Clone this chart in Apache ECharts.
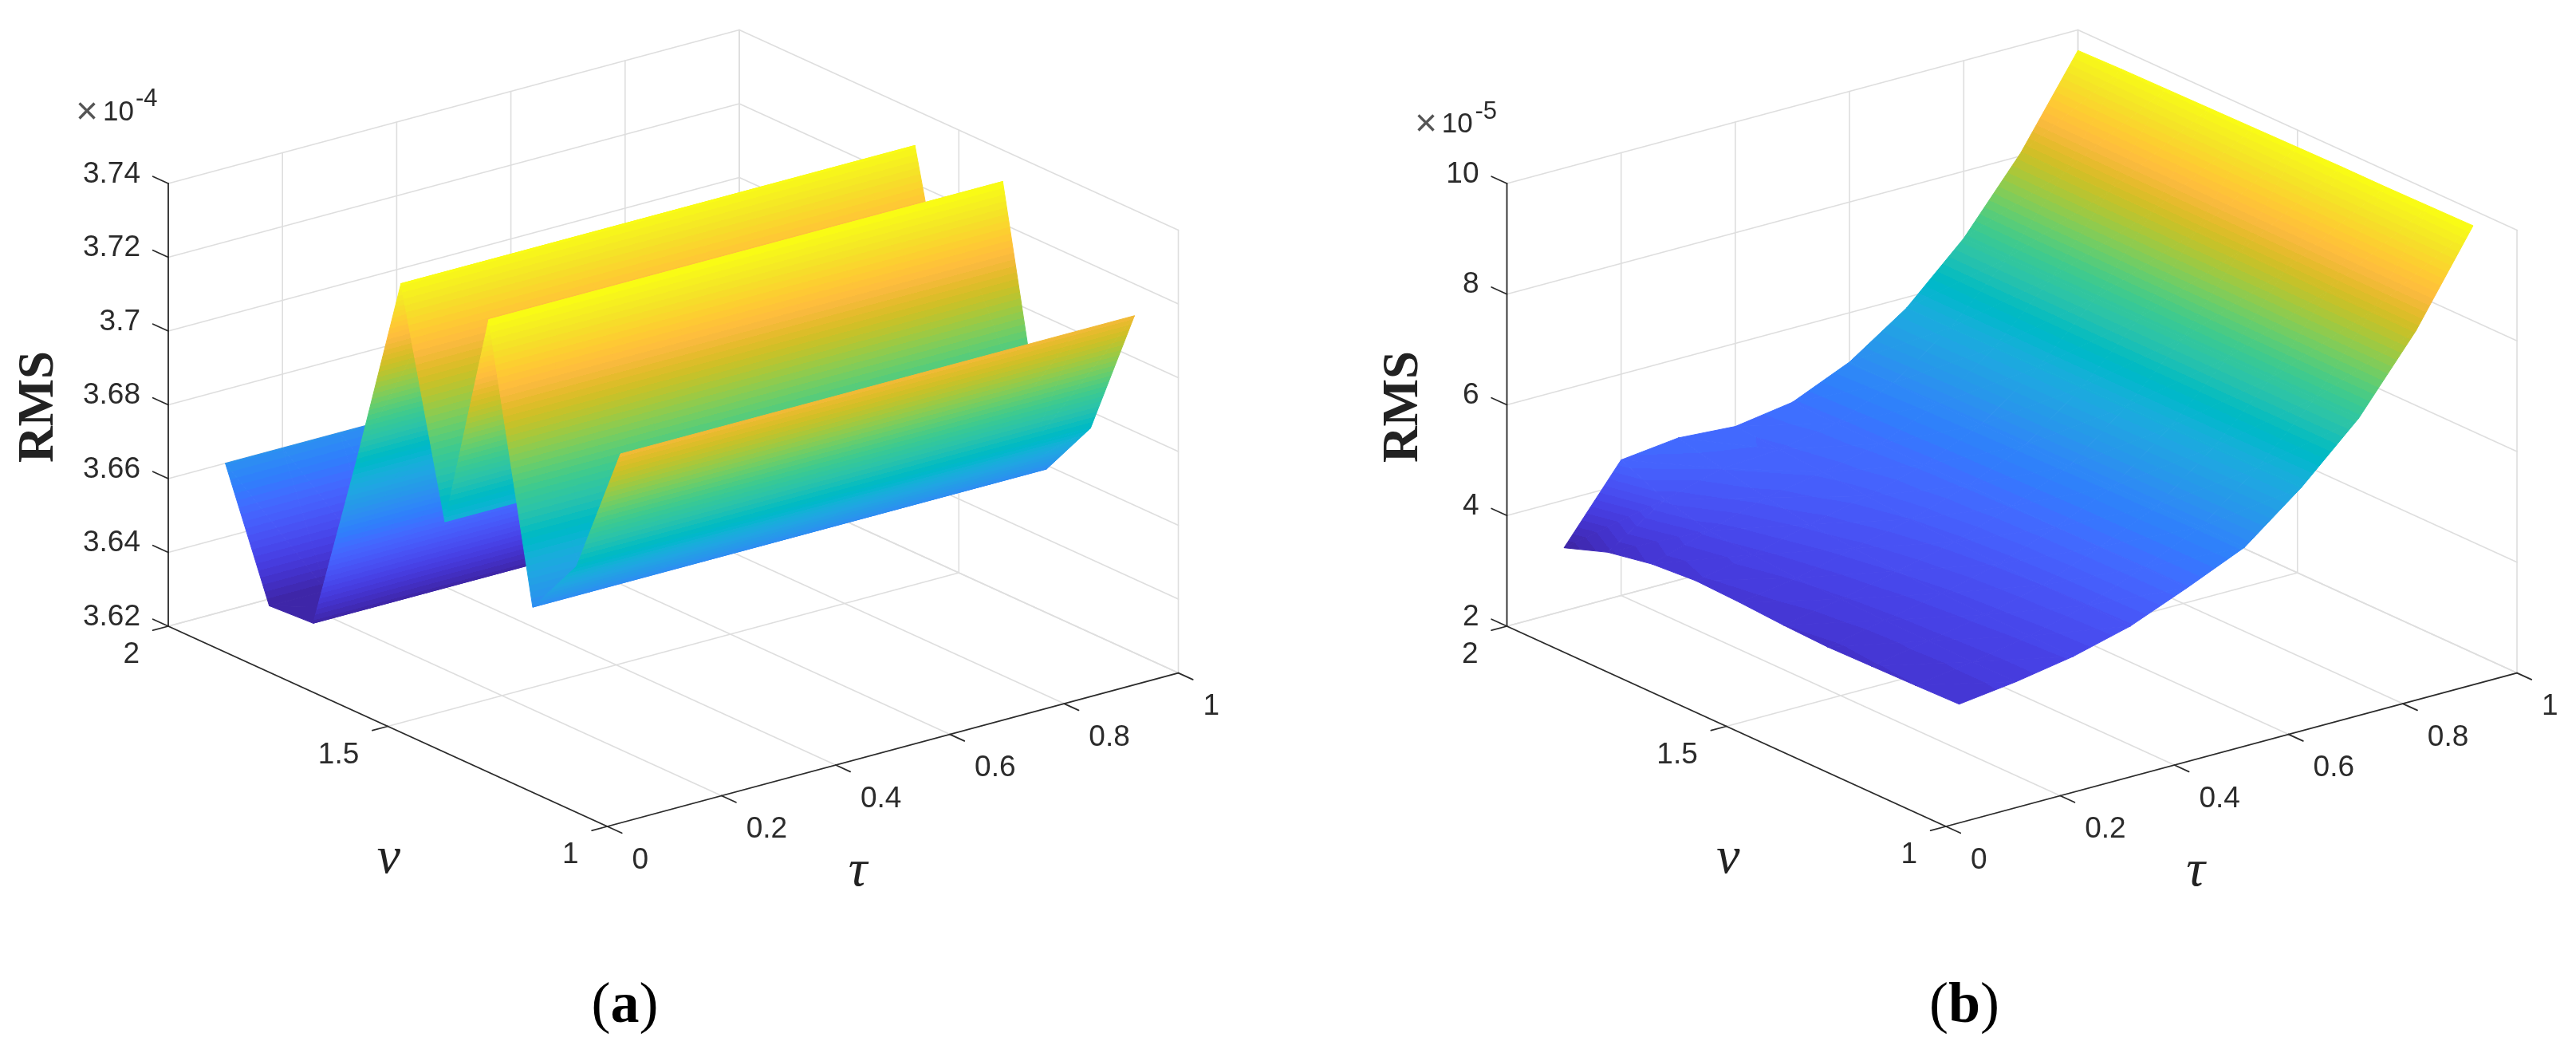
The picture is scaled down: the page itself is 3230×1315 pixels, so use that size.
<!DOCTYPE html>
<html><head><meta charset="utf-8">
<style>html,body{margin:0;padding:0;background:#fff}#c{width:3230px;height:1315px}</style>
<script src="https://cdn.jsdelivr.net/npm/echarts@6/dist/echarts.min.js"></script>
</head><body><div id="c"></div>
<script>
// ---------- data ----------
const nuValues = [2.0, 1.9, 1.8, 1.7, 1.6, 1.5, 1.4, 1.3, 1.2, 1.1];
const tauValues = [0.1, 0.2, 0.3, 0.4, 0.5, 0.6, 0.7, 0.8, 0.9, 1.0];
// panel (a): RMS (x1e-4) per nu row; the surface does not change along tau
const rmsAByNu = [3.66, 3.6268, 3.6275, 3.6775, 3.7304, 3.6713, 3.7315, 3.659, 3.6755, 3.7114];
// panel (b): RMS (x1e-5), rows follow nuValues, columns follow tauValues
const rmsB = [
  [3.14, 4.45, 4.57, 4.50, 4.66, 5.11, 5.81, 6.79, 8.06, 9.63],
  [3.42, 4.10, 4.38, 4.45, 4.64, 5.09, 5.82, 6.80, 8.07, 9.65],
  [3.57, 3.90, 4.22, 4.40, 4.63, 5.07, 5.82, 6.80, 8.08, 9.66],
  [3.63, 3.82, 4.10, 4.33, 4.61, 5.06, 5.83, 6.80, 8.08, 9.67],
  [3.60, 3.77, 4.02, 4.27, 4.60, 5.05, 5.83, 6.80, 8.09, 9.68],
  [3.55, 3.74, 3.97, 4.22, 4.59, 5.04, 5.83, 6.80, 8.09, 9.69],
  [3.52, 3.72, 3.93, 4.19, 4.58, 5.03, 5.83, 6.80, 8.09, 9.70],
  [3.535, 3.71, 3.91, 4.17, 4.575, 5.03, 5.83, 6.80, 8.10, 9.70],
  [3.55, 3.70, 3.89, 4.16, 4.57, 5.02, 5.83, 6.80, 8.10, 9.71],
  [3.57, 3.70, 3.88, 4.15, 4.57, 5.02, 5.83, 6.80, 8.10, 9.72]
];
const tauTicks = [0, 0.2, 0.4, 0.6, 0.8, 1];
const tauTickLabels = ['0', '0.2', '0.4', '0.6', '0.8', '1'];
const nuTicks = [2, 1.5, 1];
const nuTickLabels = ['2', '1.5', '1'];
const zTicksA = [3.62, 3.64, 3.66, 3.68, 3.70, 3.72, 3.74];
const zTickLabelsA = ['3.62', '3.64', '3.66', '3.68', '3.7', '3.72', '3.74'];
const zTicksB = [2, 4, 6, 8, 10];
const zTickLabelsB = ['2', '4', '6', '8', '10'];

// MATLAB parula, 64 levels
const parula = [[0.2422,0.1504,0.6603],[0.2504,0.1650,0.7076],[0.2578,0.1818,0.7511],[0.2647,0.1978,0.7952],[0.2706,0.2147,0.8364],[0.2751,0.2342,0.8710],[0.2783,0.2559,0.8991],[0.2803,0.2782,0.9221],[0.2813,0.3006,0.9414],[0.2810,0.3228,0.9579],[0.2795,0.3447,0.9717],[0.2760,0.3667,0.9829],[0.2699,0.3892,0.9906],[0.2602,0.4123,0.9952],[0.2440,0.4358,0.9988],[0.2206,0.4603,0.9973],[0.1963,0.4847,0.9892],[0.1834,0.5074,0.9798],[0.1786,0.5289,0.9682],[0.1764,0.5499,0.9520],[0.1687,0.5703,0.9359],[0.1540,0.5902,0.9218],[0.1460,0.6091,0.9079],[0.1380,0.6276,0.8973],[0.1248,0.6459,0.8883],[0.1113,0.6635,0.8763],[0.0952,0.6798,0.8598],[0.0689,0.6948,0.8394],[0.0297,0.7082,0.8163],[0.0036,0.7197,0.7917],[0.0067,0.7293,0.7660],[0.0433,0.7411,0.7394],[0.0964,0.7500,0.7120],[0.1408,0.7584,0.6842],[0.1717,0.7670,0.6554],[0.1938,0.7758,0.6251],[0.2161,0.7843,0.5923],[0.2470,0.7918,0.5567],[0.2906,0.7973,0.5188],[0.3406,0.8008,0.4789],[0.3909,0.8029,0.4354],[0.4456,0.8024,0.3909],[0.5044,0.7993,0.3480],[0.5616,0.7942,0.3045],[0.6174,0.7876,0.2612],[0.6720,0.7793,0.2227],[0.7242,0.7698,0.1910],[0.7738,0.7598,0.1646],[0.8203,0.7498,0.1535],[0.8634,0.7406,0.1596],[0.9035,0.7330,0.1774],[0.9393,0.7288,0.2100],[0.9728,0.7298,0.2394],[0.9956,0.7434,0.2371],[0.9970,0.7659,0.2199],[0.9952,0.7893,0.2028],[0.9892,0.8136,0.1885],[0.9786,0.8386,0.1766],[0.9676,0.8639,0.1643],[0.9610,0.8890,0.1537],[0.9597,0.9135,0.1423],[0.9628,0.9373,0.1265],[0.9691,0.9606,0.1064],[0.9769,0.9839,0.0805]];

// ---------- layout ----------
const GRID = '#dedede', AXIS = '#2b2b2b', TEXT = '#2b2b2b';
const panels = [
  { id:'a', origin:[761.5,1036], tauVec:[716,-192.4], nuVec:[-550.5,-251], zVec:[0,-555], zMin:3.62, zMax:3.74,
    zTicks:zTicksA, zLabels:zTickLabelsA, exp:'-4', expAt:[109,129,170,141,124],
    rmsX:50, rmsY:510, nuAt:[487.5,1077], tauAt:[1075.5,1093], capAt:[783.5,1262], cap:'a' },
  { id:'b', origin:[2440,1036], tauVec:[716,-192.4], nuVec:[-550.5,-251], zVec:[0,-555], zMin:2, zMax:10,
    zTicks:zTicksB, zLabels:zTickLabelsB, exp:'-5', expAt:[1788,1807.7,1849.5,156,140.6],
    rmsX:1760.5, rmsY:510, nuAt:[2167,1077], tauAt:[2753,1093], capAt:[2463,1262], cap:'b' }
];
function project(p, tau, nu, z) {
  const f = (z - p.zMin) / (p.zMax - p.zMin), n = nu - 1;
  return [p.origin[0] + tau*p.tauVec[0] + n*p.nuVec[0] + f*p.zVec[0],
          p.origin[1] + tau*p.tauVec[1] + n*p.nuVec[1] + f*p.zVec[1]];
}

// ---------- build marks ----------
const gridLines = [], axisLines = [], labels = [], tris = [];
function addGrid(pi, a, b) { gridLines.push([pi, ...a, ...b]); }
function addAxis(pi, a, b) { axisLines.push([pi, ...a, ...b]); }

panels.forEach((p, pi) => {
  const zl = p.zMin, zh = p.zMax;
  // floor and walls
  tauTicks.forEach(t => {
    addGrid(pi, [t,1,zl], [t,2,zl]);
    addGrid(pi, [t,2,zl], [t,2,zh]);
  });
  nuTicks.forEach(n => {
    addGrid(pi, [0,n,zl], [1,n,zl]);
    addGrid(pi, [1,n,zl], [1,n,zh]);
  });
  p.zTicks.forEach(z => {
    addGrid(pi, [0,2,z], [1,2,z]);
    addGrid(pi, [1,2,z], [1,1,z]);
  });
  // axes and ticks
  addAxis(pi, [0,2,zl], [0,2,zh]);
  addAxis(pi, [0,2,zl], [0,1,zl]);
  addAxis(pi, [0,1,zl], [1,1,zl]);
  p.zTicks.forEach((z,i) => {
    addAxis(pi, [0,2,z], [0,2.035,z]);
    labels.push({pi, at:[0,2,z], dx:-35, dy:-11.5, align:'right', text:p.zLabels[i]});
  });
  tauTicks.forEach((t,i) => {
    addAxis(pi, [t,1,zl], [t,0.967,zl]);
    labels.push({pi, at:[t,1,zl], dx:31, dy:42.5, align:'left', text:tauTickLabels[i]});
  });
  nuTicks.forEach((n,i) => {
    addAxis(pi, [0,n,zl], [-0.027,n,zl]);
    labels.push({pi, at:[0,n,zl], dx:-36, dy:36, align:'right', text:nuTickLabels[i]});
  });
  // surface: far cells first
  const zAt = p.id === 'a' ? (r,c) => rmsAByNu[r] : (r,c) => rmsB[r][c];
  let cMin = Infinity, cMax = -Infinity;
  nuValues.forEach((_,r) => tauValues.forEach((_,c) => { const v = zAt(r,c); cMin = Math.min(cMin,v); cMax = Math.max(cMax,v); }));
  for (let r = 0; r < nuValues.length-1; r++) {
    for (let c = tauValues.length-2; c >= 0; c--) {
      const A=[tauValues[c],nuValues[r],zAt(r,c)], B=[tauValues[c+1],nuValues[r],zAt(r,c+1)],
            C=[tauValues[c+1],nuValues[r+1],zAt(r+1,c+1)], D=[tauValues[c],nuValues[r+1],zAt(r+1,c)];
      tris.push([pi,cMin,cMax,...A,...B,...C]);
      tris.push([pi,cMin,cMax,...A,...C,...D]);
    }
  }
});

function colorOf(i){ const c=parula[Math.max(0,Math.min(63,i))]; return 'rgb('+c.map(v=>Math.round(v*255)).join(',')+')'; }

function lineRender(color, width) {
  return function(params, api) {
    const p = panels[api.value(0)];
    const a = api.coord(project(p, api.value(1), api.value(2), api.value(3)));
    const b = api.coord(project(p, api.value(4), api.value(5), api.value(6)));
    return {type:'line', shape:{x1:a[0],y1:a[1],x2:b[0],y2:b[1]}, style:{stroke:color,lineWidth:width,lineCap:'round'}, silent:true};
  };
}
function triRender(params, api) {
  const p = panels[api.value(0)], cMin = api.value(1), cMax = api.value(2);
  const pts = [], cs = [];
  for (let k=0;k<3;k++){
    const z = api.value(5+k*3);
    pts.push(api.coord(project(p, api.value(3+k*3), api.value(4+k*3), z)));
    cs.push((z-cMin)/(cMax-cMin)*64);
  }
  const lo = Math.min(...cs), hi = Math.max(...cs);
  const [x0,y0]=pts[0],[x1,y1]=pts[1],[x2,y2]=pts[2];
  const det=(x1-x0)*(y2-y0)-(x2-x0)*(y1-y0);
  let fill;
  if (hi-lo<1e-6 || Math.abs(det)<1e-6) {
    fill = colorOf(Math.floor(lo));
  } else {
    const ga=((cs[1]-cs[0])*(y2-y0)-(cs[2]-cs[0])*(y1-y0))/det;
    const gb=((cs[2]-cs[0])*(x1-x0)-(cs[1]-cs[0])*(x2-x0))/det;
    const g2=ga*ga+gb*gb, i0=cs.indexOf(lo), d=(hi-lo)/g2;
    const sx=pts[i0][0], sy=pts[i0][1];
    const stops=[];
    for (let k=Math.floor(lo); k<=Math.min(63,Math.floor(hi)); k++){
      const col=colorOf(k);
      const o0=Math.max(0,(k-lo)/(hi-lo)), o1=Math.min(1,(k+1-lo)/(hi-lo));
      stops.push({offset:o0,color:col},{offset:o1,color:col});
    }
    fill=new echarts.graphic.LinearGradient(sx,sy,sx+ga*d,sy+gb*d,stops,true);
  }
  return {type:'polygon', shape:{points:pts}, style:{fill:fill,stroke:fill,lineWidth:1,lineJoin:'round'}, silent:true};
}
function labelRender(params, api) {
  const l = labels[params.dataIndex], p = panels[l.pi];
  const a = api.coord(project(p, l.at[0], l.at[1], l.at[2]));
  return {type:'text', silent:true, style:{x:a[0]+l.dx,y:a[1]+l.dy,text:l.text,align:l.align,verticalAlign:'middle',
    fill:TEXT,fontSize:37,fontFamily:'"Liberation Sans"'}};
}
const decor = [];
panels.forEach(p => {
  const e=p.expAt;
  decor.push({x:e[0],y:e[3]+1,text:'×',align:'center',size:48,family:'"Liberation Sans"',fill:'#555555'});
  decor.push({x:e[1],y:e[3],text:'10',align:'left',size:35,family:'"Liberation Sans"',fill:TEXT});
  decor.push({x:e[2],y:e[4],text:p.exp,align:'left',size:31,family:'"Liberation Sans"',fill:TEXT});
  decor.push({x:p.rmsX,y:p.rmsY,text:'RMS',align:'center',size:63,family:'"Liberation Serif"',fill:'#222222',weight:'bold',rot:Math.PI/2});
  decor.push({x:p.nuAt[0],y:p.nuAt[1],text:'ν',align:'center',size:66,family:'"Liberation Serif"',fill:'#222222',style:'italic'});
  decor.push({x:p.tauAt[0],y:p.tauAt[1],text:'τ',align:'center',size:66,family:'"Liberation Serif"',fill:'#222222',style:'italic'});
  decor.push({x:p.capAt[0],y:p.capAt[1],cap:p.cap});
});
function decorRender(params, api) {
  const d = decor[params.dataIndex];
  const a = api.coord([d.x,d.y]);
  if (d.cap) {
    return {type:'text',silent:true,x:a[0],y:a[1],style:{text:'{r|(}{b|'+d.cap+'}{r|)}',align:'center',verticalAlign:'middle',
      rich:{r:{fontSize:72,fontFamily:'"Liberation Serif"',fill:'#000'},b:{fontSize:72,fontWeight:'bold',fontFamily:'"Liberation Serif"',fill:'#000'}}}};
  }
  return {type:'text',silent:true,x:a[0],y:a[1],rotation:d.rot||0,style:{text:d.text,align:d.align,verticalAlign:'middle',
    fill:d.fill,fontSize:d.size,fontFamily:d.family,fontWeight:d.weight||'normal',fontStyle:d.style||'normal'}};
}

const chart = echarts.init(document.getElementById('c'), null, {renderer:'canvas'});
const base = {type:'custom', coordinateSystem:'cartesian2d', xAxisIndex:0, yAxisIndex:0, animation:false, clip:false};
chart.setOption({
  backgroundColor:'#ffffff', animation:false, tooltip:{show:false},
  grid:{left:0,top:0,right:0,bottom:0,containLabel:false},
  xAxis:{type:'value',min:0,max:3230,show:false},
  yAxis:{type:'value',min:0,max:1315,inverse:true,show:false},
  series:[
    {...base, name:'grid', z:1, data:gridLines, renderItem:lineRender(GRID,1.6), encode:{x:1,y:2}},
    {...base, name:'surface', z:2, data:tris, renderItem:triRender, encode:{x:3,y:4}},
    {...base, name:'axes', z:3, data:axisLines, renderItem:lineRender(AXIS,1.8), encode:{x:1,y:2}},
    {...base, name:'ticks', z:4, data:labels.map((l,i)=>[i,0]), renderItem:labelRender, encode:{x:0,y:1}},
    {...base, name:'titles', z:4, data:decor.map((d,i)=>[i,0]), renderItem:decorRender, encode:{x:0,y:1}}
  ]
});
</script></body></html>
